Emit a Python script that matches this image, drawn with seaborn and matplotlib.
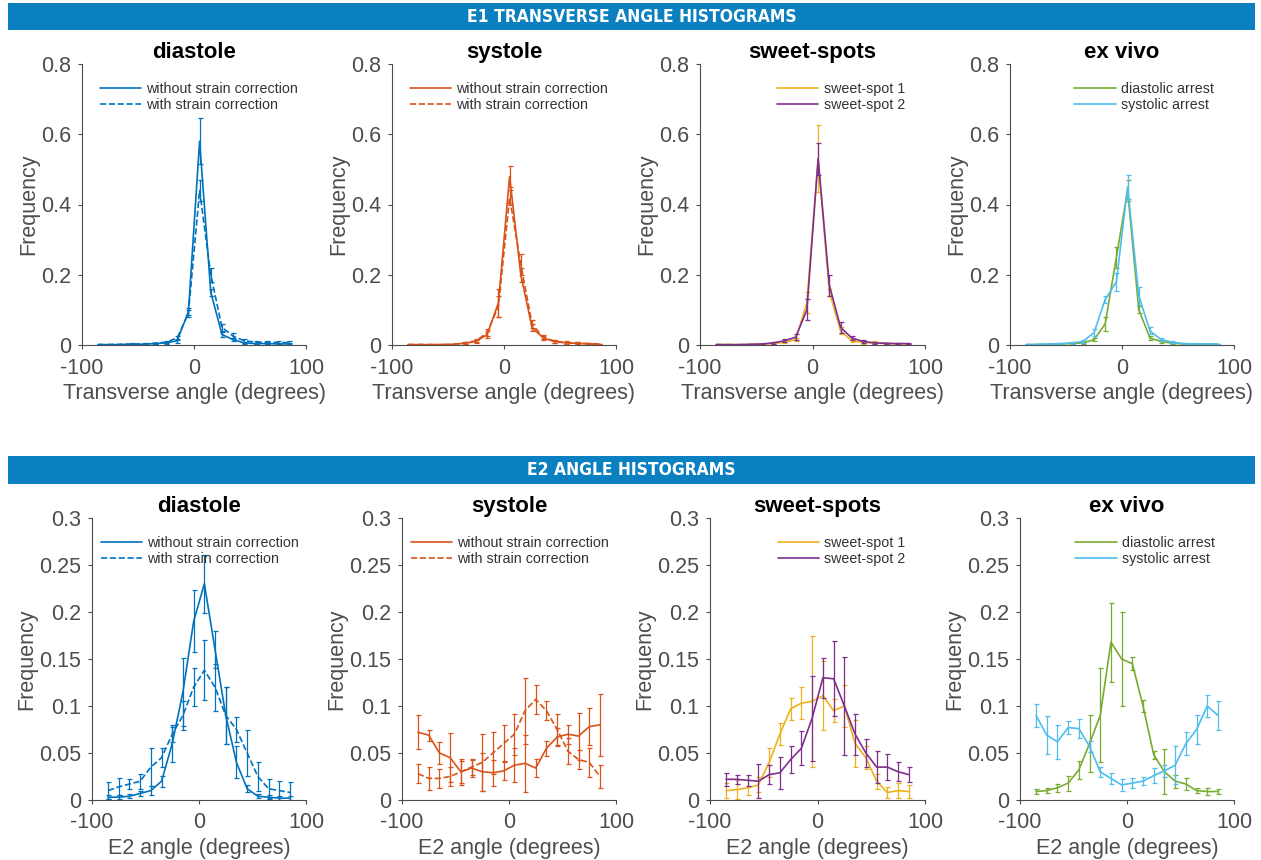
import numpy as np
import pandas as pd
import matplotlib
matplotlib.use("Agg")
import matplotlib.pyplot as plt
import seaborn as sns

sns.set_theme(style="ticks")
plt.rcParams['font.family'] = ['Liberation Sans', 'DejaVu Sans']

# bin centres (degrees)
angles = [-85, -75, -65, -55, -45, -35, -25, -15, -5, 5, 15, 25, 35, 45, 55, 65, 75, 85]

# ---- E1 transverse angle ----
e1_dia_wo = [0.001, 0.001, 0.001, 0.002, 0.002, 0.004, 0.006, 0.012, 0.095, 0.58, 0.15, 0.03, 0.015, 0.006, 0.004, 0.004, 0.003, 0.003]
e1_dia_wo_err = [0.001, 0.001, 0.001, 0.001, 0.001, 0.002, 0.003, 0.005, 0.01, 0.065, 0.01, 0.008, 0.005, 0.003, 0.002, 0.002, 0.002, 0.002]
e1_dia_w = [0.001, 0.001, 0.002, 0.003, 0.003, 0.005, 0.008, 0.02, 0.09, 0.44, 0.2, 0.05, 0.025, 0.012, 0.008, 0.008, 0.007, 0.007]
e1_dia_w_err = [0.001, 0.001, 0.001, 0.002, 0.002, 0.002, 0.003, 0.006, 0.01, 0.03, 0.02, 0.01, 0.008, 0.005, 0.004, 0.004, 0.004, 0.004]

e1_sys_wo = [0.001, 0.001, 0.001, 0.001, 0.002, 0.005, 0.01, 0.03, 0.12, 0.48, 0.2, 0.05, 0.02, 0.01, 0.006, 0.005, 0.003, 0.002]
e1_sys_wo_err = [0.001, 0.001, 0.001, 0.001, 0.001, 0.003, 0.004, 0.01, 0.04, 0.03, 0.02, 0.01, 0.006, 0.004, 0.003, 0.003, 0.002, 0.001]
e1_sys_w = [0.001, 0.001, 0.001, 0.001, 0.002, 0.006, 0.012, 0.035, 0.11, 0.42, 0.23, 0.06, 0.022, 0.011, 0.007, 0.006, 0.004, 0.003]
e1_sys_w_err = [0.001, 0.001, 0.001, 0.001, 0.001, 0.003, 0.004, 0.01, 0.03, 0.02, 0.03, 0.012, 0.006, 0.004, 0.003, 0.003, 0.002, 0.001]

e1_ss1 = [0.002, 0.001, 0.001, 0.002, 0.002, 0.004, 0.008, 0.015, 0.12, 0.53, 0.15, 0.04, 0.012, 0.007, 0.006, 0.004, 0.003, 0.003]
e1_ss1_err = [0.002, 0.001, 0.001, 0.001, 0.001, 0.002, 0.003, 0.005, 0.03, 0.095, 0.01, 0.01, 0.004, 0.003, 0.004, 0.002, 0.002, 0.001]
e1_ss2 = [0.001, 0.001, 0.001, 0.002, 0.003, 0.006, 0.012, 0.022, 0.1, 0.53, 0.17, 0.05, 0.02, 0.01, 0.006, 0.005, 0.004, 0.004]
e1_ss2_err = [0.001, 0.001, 0.001, 0.001, 0.001, 0.003, 0.004, 0.008, 0.03, 0.045, 0.03, 0.015, 0.006, 0.004, 0.003, 0.002, 0.002, 0.002]

e1_da = [0.001, 0.001, 0.002, 0.003, 0.004, 0.006, 0.015, 0.06, 0.25, 0.44, 0.1, 0.02, 0.01, 0.005, 0.003, 0.003, 0.002, 0.002]
e1_da_err = [0.001, 0.001, 0.001, 0.001, 0.002, 0.003, 0.005, 0.02, 0.03, 0.03, 0.01, 0.005, 0.003, 0.002, 0.001, 0.001, 0.001, 0.001]
e1_sa = [0.001, 0.002, 0.003, 0.004, 0.006, 0.01, 0.035, 0.13, 0.18, 0.45, 0.14, 0.04, 0.015, 0.008, 0.004, 0.003, 0.003, 0.003]
e1_sa_err = [0.001, 0.001, 0.001, 0.002, 0.002, 0.003, 0.01, 0.01, 0.025, 0.035, 0.025, 0.01, 0.004, 0.003, 0.002, 0.001, 0.001, 0.001]

# ---- E2 angle ----
e2_dia_wo = [0.003, 0.003, 0.004, 0.007, 0.01, 0.02, 0.06, 0.115, 0.19, 0.23, 0.16, 0.09, 0.04, 0.012, 0.004, 0.003, 0.002, 0.002]
e2_dia_wo_err = [0.002, 0.002, 0.002, 0.003, 0.005, 0.006, 0.02, 0.036, 0.033, 0.031, 0.02, 0.03, 0.017, 0.004, 0.002, 0.002, 0.002, 0.002]
e2_dia_w = [0.01, 0.014, 0.017, 0.02, 0.035, 0.045, 0.07, 0.09, 0.12, 0.138, 0.12, 0.09, 0.075, 0.05, 0.025, 0.012, 0.01, 0.008]
e2_dia_w_err = [0.009, 0.009, 0.005, 0.008, 0.02, 0.01, 0.008, 0.015, 0.02, 0.032, 0.025, 0.03, 0.013, 0.024, 0.015, 0.01, 0.01, 0.011]

e2_sys_wo = [0.072, 0.069, 0.05, 0.045, 0.03, 0.034, 0.03, 0.029, 0.031, 0.037, 0.039, 0.034, 0.055, 0.067, 0.07, 0.068, 0.078, 0.08]
e2_sys_wo_err = [0.018, 0.006, 0.012, 0.026, 0.014, 0.01, 0.02, 0.014, 0.01, 0.018, 0.03, 0.01, 0.008, 0.01, 0.01, 0.025, 0.02, 0.033]
e2_sys_w = [0.028, 0.023, 0.023, 0.025, 0.03, 0.035, 0.04, 0.05, 0.06, 0.07, 0.095, 0.107, 0.095, 0.075, 0.052, 0.043, 0.04, 0.025]
e2_sys_w_err = [0.01, 0.012, 0.01, 0.01, 0.012, 0.008, 0.03, 0.022, 0.02, 0.022, 0.035, 0.015, 0.01, 0.016, 0.014, 0.01, 0.015, 0.012]

e2_ss1 = [0.01, 0.011, 0.013, 0.016, 0.04, 0.07, 0.097, 0.103, 0.105, 0.111, 0.095, 0.1, 0.06, 0.045, 0.02, 0.008, 0.01, 0.009]
e2_ss1_err = [0.008, 0.01, 0.008, 0.008, 0.015, 0.012, 0.012, 0.017, 0.07, 0.037, 0.012, 0.022, 0.025, 0.012, 0.008, 0.006, 0.008, 0.007]
e2_ss2 = [0.022, 0.022, 0.021, 0.02, 0.027, 0.029, 0.043, 0.055, 0.087, 0.13, 0.129, 0.1, 0.07, 0.05, 0.035, 0.035, 0.03, 0.027]
e2_ss2_err = [0.007, 0.005, 0.006, 0.018, 0.01, 0.017, 0.014, 0.018, 0.045, 0.021, 0.04, 0.052, 0.022, 0.015, 0.017, 0.014, 0.01, 0.008]

e2_da = [0.009, 0.01, 0.013, 0.018, 0.032, 0.06, 0.09, 0.168, 0.15, 0.145, 0.1, 0.048, 0.03, 0.02, 0.017, 0.01, 0.009, 0.009]
e2_da_err = [0.003, 0.003, 0.004, 0.008, 0.01, 0.03, 0.05, 0.042, 0.05, 0.007, 0.006, 0.004, 0.024, 0.007, 0.006, 0.003, 0.004, 0.003]
e2_sa = [0.09, 0.069, 0.062, 0.077, 0.076, 0.057, 0.03, 0.023, 0.016, 0.018, 0.02, 0.026, 0.031, 0.037, 0.06, 0.075, 0.1, 0.09]
e2_sa_err = [0.012, 0.02, 0.018, 0.007, 0.01, 0.006, 0.005, 0.006, 0.006, 0.005, 0.004, 0.008, 0.006, 0.02, 0.012, 0.015, 0.012, 0.015]

col_blue = "#0072BD"
col_orange = "#D95319"
col_yellow = "#EDB120"
col_purple = "#7E2F8E"
col_green = "#77AC30"
col_cyan = "#4DBEEE"
banner_col = "#0A80C0"
axis_col = "#4d4d4d"

titles = ["diastole", "systole", "sweet-spots", "ex vivo"]

rows = [
    {
        "ylim": 0.8, "yticks": [0, 0.2, 0.4, 0.6, 0.8], "yfmt": ["0", "0.2", "0.4", "0.6", "0.8"],
        "xlabel": "Transverse angle (degrees)",
        "panels": [
            [("without strain correction", e1_dia_wo, e1_dia_wo_err, col_blue, "-"),
             ("with strain correction", e1_dia_w, e1_dia_w_err, col_blue, "--")],
            [("without strain correction", e1_sys_wo, e1_sys_wo_err, col_orange, "-"),
             ("with strain correction", e1_sys_w, e1_sys_w_err, col_orange, "--")],
            [("sweet-spot 1", e1_ss1, e1_ss1_err, col_yellow, "-"),
             ("sweet-spot 2", e1_ss2, e1_ss2_err, col_purple, "-")],
            [("diastolic arrest", e1_da, e1_da_err, col_green, "-"),
             ("systolic arrest", e1_sa, e1_sa_err, col_cyan, "-")],
        ],
    },
    {
        "ylim": 0.3, "yticks": [0, 0.05, 0.1, 0.15, 0.2, 0.25, 0.3],
        "yfmt": ["0", "0.05", "0.1", "0.15", "0.2", "0.25", "0.3"],
        "xlabel": "E2 angle (degrees)",
        "panels": [
            [("without strain correction", e2_dia_wo, e2_dia_wo_err, col_blue, "-"),
             ("with strain correction", e2_dia_w, e2_dia_w_err, col_blue, "--")],
            [("without strain correction", e2_sys_wo, e2_sys_wo_err, col_orange, "-"),
             ("with strain correction", e2_sys_w, e2_sys_w_err, col_orange, "--")],
            [("sweet-spot 1", e2_ss1, e2_ss1_err, col_yellow, "-"),
             ("sweet-spot 2", e2_ss2, e2_ss2_err, col_purple, "-")],
            [("diastolic arrest", e2_da, e2_da_err, col_green, "-"),
             ("systolic arrest", e2_sa, e2_sa_err, col_cyan, "-")],
        ],
    },
]

W, H = 1261, 860
fig = plt.figure(figsize=(W / 100, H / 100), dpi=100)

def px_box(left, top, right, bottom):
    return [left / W, 1 - bottom / H, (right - left) / W, (bottom - top) / H]

# banners
for top, bot, txt in [(3, 30, "E1 TRANSVERSE ANGLE HISTOGRAMS"), (456, 484, "E2 ANGLE HISTOGRAMS")]:
    bax = fig.add_axes(px_box(8, top, 1255, bot))
    bax.set_facecolor(banner_col)
    bax.set_xticks([])
    bax.set_yticks([])
    for s in bax.spines.values():
        s.set_visible(False)
    bax.text(0.5, 0.5, txt, transform=bax.transAxes, ha="center", va="center",
             color="white", fontsize=12.5, fontweight="bold", fontstretch="condensed",
             family=["DejaVu Sans"])

row_geom = [
    {"lefts": [82, 392, 700, 1010], "top": 64, "bottom": 345, "leg_x": 0.08},
    {"lefts": [92, 402, 710, 1020], "top": 518, "bottom": 800, "leg_x": 0.04},
]
rights = [306, 616, 925, 1234]

for r, row in enumerate(rows):
    g = row_geom[r]
    for c in range(4):
        ax = fig.add_axes(px_box(g["lefts"][c], g["top"], rights[c], g["bottom"]))
        for label, vals, errs, color, ls in row["panels"][c]:
            df = pd.DataFrame({"angle": angles, "freq": vals})
            sns.lineplot(data=df, x="angle", y="freq", ax=ax, color=color, linestyle=ls,
                         linewidth=1.2, label=label)
            ax.errorbar(angles, vals, yerr=errs, fmt="none", ecolor=color,
                        elinewidth=0.9, capsize=1.8, capthick=0.9)
        ax.set_xlim(-100, 100)
        ax.set_ylim(0, row["ylim"])
        ax.set_xticks([-100, 0, 100])
        ax.set_xticklabels(["-100", "0", "100"])
        ax.set_yticks(row["yticks"])
        ax.set_yticklabels(row["yfmt"])
        ax.tick_params(axis="both", labelsize=15.5, colors=axis_col, length=3, width=0.8,
                       direction="out")
        ax.tick_params(axis="x", pad=6)
        ax.tick_params(axis="y", pad=5)
        for side in ["top", "right"]:
            ax.spines[side].set_visible(False)
        for side in ["left", "bottom"]:
            ax.spines[side].set_color(axis_col)
            ax.spines[side].set_linewidth(0.8)
        ax.set_xlabel(row["xlabel"], fontsize=15.5, color=axis_col, labelpad=3)
        ax.set_ylabel("Frequency", fontsize=15.5, color=axis_col, labelpad=1)
        ax.set_title(titles[c], fontsize=16, fontweight="bold", color="black", pad=4)
        if c < 2:
            leg = ax.legend(loc="upper left", bbox_to_anchor=(g["leg_x"], 0.935), frameon=False,
                            fontsize=10.3, handlelength=2.9, handletextpad=0.35,
                            labelspacing=0.15, borderaxespad=0, borderpad=0)
        else:
            leg = ax.legend(loc="upper right", bbox_to_anchor=(0.91, 0.935), frameon=False,
                            fontsize=10.3, handlelength=2.9, handletextpad=0.35,
                            labelspacing=0.15, borderaxespad=0, borderpad=0)
        for t in leg.get_texts():
            t.set_color("#333333")

fig.savefig("out.png", dpi=100)
